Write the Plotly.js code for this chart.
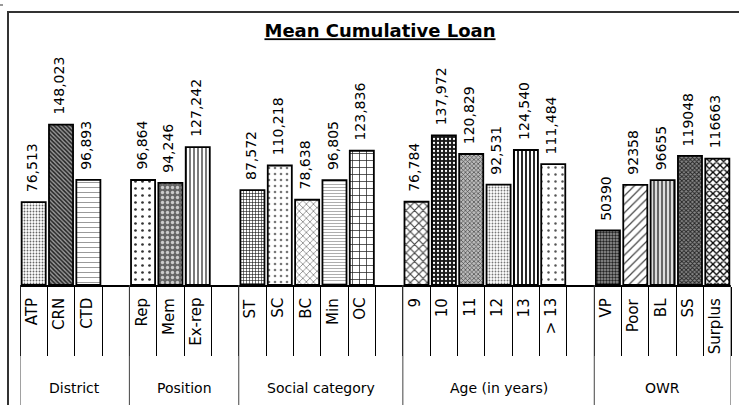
<!DOCTYPE html>
<html>
<head>
<meta charset="utf-8">
<script src="https://cdn.plot.ly/plotly-3.0.1.min.js"></script>
<style>html,body{margin:0;padding:0;background:#fff;}#chart{width:739px;height:405px;}</style>
</head>
<body>
<div id="chart"></div>
<script>
// ---- data ----
const districtCats = ['ATP', 'CRN', 'CTD'];
const districtVals = [76513, 148023, 96893];
const positionCats = ['Rep', 'Mem', 'Ex-rep'];
const positionVals = [96864, 94246, 127242];
const socialCats = ['ST', 'SC', 'BC', 'Min', 'OC'];
const socialVals = [87572, 110218, 78638, 96805, 123836];
const ageCats = ['9', '10', '11', '12', '13', '> 13'];
const ageVals = [76784, 137972, 120829, 92531, 124540, 111484];
const owrCats = ['VP', 'Poor', 'BL', 'SS', 'Surplus'];
const owrVals = [50390, 92358, 96655, 119048, 116663];
const groupLabels = ['District', 'Position', 'Social category', 'Age (in years)', 'OWR'];
const groupComma = [true, true, true, true, false];

// ---- styles (one per bar) ----
const patShape = ['.', '\\', '-', '.', '.', '|', '+', '.', 'x', '-', '+', 'x', '.', 'x', '.', '|', '.', '.', '/', '|', 'x', 'x'];
const patFg    = ['#666', '#222', '#555', '#333', '#ccc', '#222', '#111', '#777', '#444', '#777', '#222', '#444', '#fff', '#444', '#777', '#111', '#555', '#222', '#444', '#333', '#222', '#000'];
const patBg    = ['#fff', '#999', '#fff', '#fff', '#666', '#fff', '#fff', '#fff', '#fff', '#fff', '#fff', '#fff', '#1a1a1a', '#bbb', '#fff', '#fff', '#fff', '#999', '#fff', '#ddd', '#888', '#fff'];
const patSize  = [3, 3, 5, 7, 5, 4, 3, 6, 5, 3, 7, 6, 4, 3, 3, 4, 7, 3, 6, 4, 3, 5];
const patSol   = [0.3, 0.5, 0.12, 0.12, 0.35, 0.3, 0.35, 0.15, 0.2, 0.2, 0.2, 0.35, 0.25, 0.4, 0.3, 0.45, 0.1, 0.5, 0.2, 0.35, 0.5, 0.45];

// ---- build slots ----
const groups = [
  [districtCats, districtVals],
  [positionCats, positionVals],
  [socialCats, socialVals],
  [ageCats, ageVals],
  [owrCats, owrVals]
];
const xs = [], ys = [], cats = [], valText = [];
const groupBounds = [];
let slot = 0;
groups.forEach(function (g, gi) {
  const start = slot;
  g[0].forEach(function (c, i) {
    xs.push(slot); ys.push(g[1][i]); cats.push(c);
    valText.push(groupComma[gi] ? g[1][i].toLocaleString('en-US') : String(g[1][i]));
    slot++;
  });
  if (gi < groups.length - 1) slot++; // empty slot after group
  groupBounds.push([start - 0.5, slot - 0.5]);
});
const nSlots = slot;

// ---- layout geometry ----
const W = 739, H = 405, L = 20, R = 8, B = 120, T = 45;
const plotW = W - L - R, plotH = H - T - B;
const yMax = 221400;
const py = function (pix) { return (H - B - pix) / plotH; }; // pixel row -> paper y
const px = function (pix) { return (pix - L) / plotW; };     // pixel col -> paper x

const FONT = 'DejaVu Sans';
const annotations = [];
xs.forEach(function (x, i) {
  annotations.push({ x: x, y: ys[i], xref: 'x', yref: 'y', text: valText[i], showarrow: false,
    textangle: -90, xanchor: 'center', yanchor: 'bottom', yshift: 8, xshift: -2,
    font: { family: FONT, size: 14, color: '#000' } });
  annotations.push({ x: x, y: 0, xref: 'x', yref: 'paper', text: cats[i], showarrow: false,
    textangle: -90, xanchor: 'center', yanchor: 'top', yshift: -11, xshift: -2,
    font: { family: FONT, size: 15, color: '#000' } });
});
groupBounds.forEach(function (b, gi) {
  annotations.push({ x: (b[0] + b[1]) / 2, y: 0, xref: 'x', yref: 'paper', text: groupLabels[gi],
    showarrow: false, xanchor: 'center', yanchor: 'middle', yshift: -103,
    font: { family: FONT, size: 14, color: '#000' } });
});

const shapes = [];
const sepX = [groupBounds[0][0]].concat(groupBounds.map(function (b) { return b[1]; }));
sepX.forEach(function (x) {
  shapes.push({ type: 'line', xref: 'x', yref: 'paper', x0: x, x1: x, y0: 0, y1: py(H),
    line: { color: '#444', width: 1 } });
});
// outer frame (cropped at right and bottom)
shapes.push({ type: 'line', xref: 'paper', yref: 'paper', x0: px(8), x1: px(8), y0: py(12), y1: py(H + 2),
  line: { color: '#333', width: 2 } });
shapes.push({ type: 'line', xref: 'paper', yref: 'paper', x0: px(7), x1: px(W + 2), y0: py(12), y1: py(12),
  line: { color: '#333', width: 2 } });
shapes.push({ type: 'line', xref: 'paper', yref: 'paper', x0: px(0), x1: px(3), y0: py(5), y1: py(5),
  line: { color: '#333', width: 1 } });

const tickVals = [];
for (let i = 0; i <= nSlots; i++) tickVals.push(i - 0.5);

const trace = {
  type: 'bar', x: xs, y: ys, width: 0.88, hoverinfo: 'skip',
  marker: {
    color: '#fff',
    line: { color: '#000', width: 1.8 },
    pattern: { shape: patShape, fgcolor: patFg, bgcolor: patBg, size: patSize, solidity: patSol, fillmode: 'replace' }
  }
};

const layout = {
  width: W, height: H,
  margin: { l: L, r: R, t: T, b: B, pad: 0 },
  paper_bgcolor: '#fff', plot_bgcolor: '#fff',
  showlegend: false,
  title: { text: '<b><u>Mean Cumulative Loan</u></b>', font: { family: FONT, size: 18, color: '#000' },
    xref: 'paper', x: px(380), xanchor: 'center', yref: 'container', y: 1 - 31 / H, yanchor: 'middle' },
  xaxis: { range: [-0.5, nSlots - 0.5], showgrid: false, zeroline: false, showticklabels: false,
    tickmode: 'array', tickvals: tickVals, ticks: 'outside', ticklen: 69, tickwidth: 1, tickcolor: '#000',
    showline: true, linecolor: '#000', linewidth: 1.5, fixedrange: true },
  yaxis: { range: [0, yMax], visible: false, showgrid: false, zeroline: false, fixedrange: true },
  annotations: annotations,
  shapes: shapes
};

Plotly.newPlot('chart', [trace], layout, { staticPlot: true, displayModeBar: false });
</script>
</body>
</html>
